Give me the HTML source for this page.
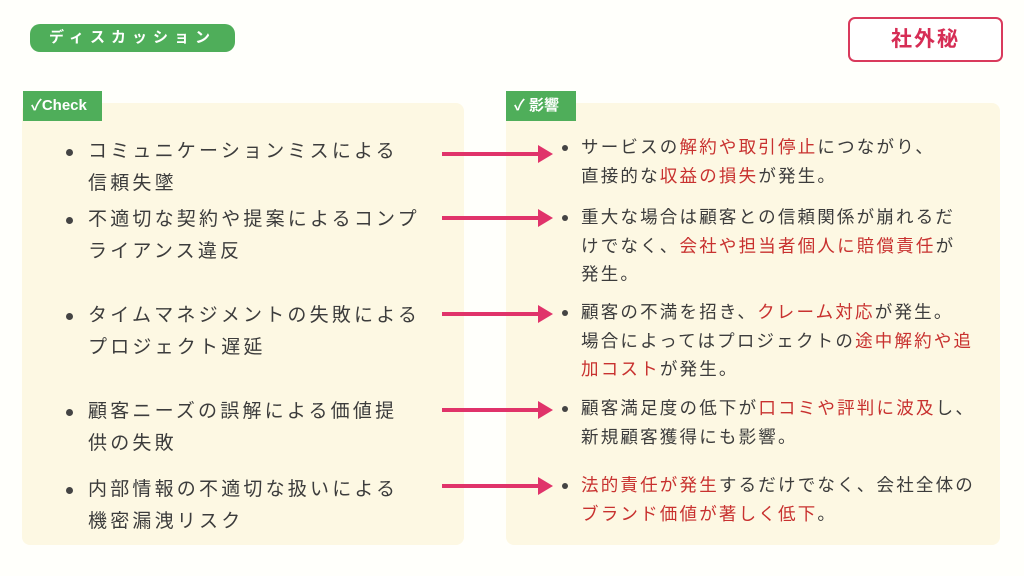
<!DOCTYPE html><html><head><meta charset="utf-8"><style>
body{margin:0;width:1024px;height:576px;background:#fffffb;position:relative;overflow:hidden;font-family:"Liberation Sans","Noto Sans CJK JP",sans-serif;color:#444}
.a{position:absolute}
.pill{left:30px;top:24px;width:205px;height:28px;background:#4fae5a;border-radius:10px;color:#fff;font-size:15px;font-weight:bold;letter-spacing:6px;line-height:28px;text-align:center}
.secret{left:848px;top:17px;width:151px;height:41px;border:2px solid #d93a5c;border-radius:7px;color:#d62d55;font-size:21px;font-weight:bold;text-align:center;line-height:41px;letter-spacing:2px;background:#fff}
.panel{background:#fdf8e3;border-radius:8px}
.tag{background:#4fae5a;color:#fff;font-size:15px;font-weight:bold;height:30px;line-height:30px;padding-left:8px}
.lt{left:88px;font-size:19px;letter-spacing:3.2px;line-height:32px;color:#3c3c3c;white-space:nowrap}
.rt{left:581px;font-size:17.5px;letter-spacing:2.2px;line-height:28.5px;color:#3c3c3c;white-space:nowrap}
.dot{width:7px;height:7px;border-radius:50%;background:#444}
.r{color:#c8312f}
</style></head><body>
<div class="a pill">ディスカッション</div>
<div class="a secret">社外秘</div>
<div class="a panel" style="left:22px;top:103px;width:442px;height:442px"></div>
<div class="a panel" style="left:506px;top:103px;width:494px;height:442px"></div>
<div class="a tag" style="left:23px;top:91px;width:71px">✓Check</div>
<div class="a tag" style="left:506px;top:91px;width:62px">✓ 影響</div>
<svg class="a" style="left:0;top:0" width="1024" height="576">
<g stroke="#e0336a" stroke-width="4" fill="#e0336a">
<line x1="442" y1="154" x2="542" y2="154"/><path d="M538 145 L553 154 L538 163Z" stroke="none"/>
<line x1="442" y1="218" x2="542" y2="218"/><path d="M538 209 L553 218 L538 227Z" stroke="none"/>
<line x1="442" y1="314" x2="542" y2="314"/><path d="M538 305 L553 314 L538 323Z" stroke="none"/>
<line x1="442" y1="410" x2="542" y2="410"/><path d="M538 401 L553 410 L538 419Z" stroke="none"/>
<line x1="442" y1="486" x2="542" y2="486"/><path d="M538 477 L553 486 L538 495Z" stroke="none"/>
</g></svg>
<div class="a dot" style="left:66px;top:149px"></div>
<div class="a dot" style="left:66px;top:217px"></div>
<div class="a dot" style="left:66px;top:313px"></div>
<div class="a dot" style="left:66px;top:409px"></div>
<div class="a dot" style="left:66px;top:487px"></div>
<div class="a lt" style="top:136px">コミュニケーションミスによる<br>信頼失墜</div>
<div class="a lt" style="top:204px">不適切な契約や提案によるコンプ<br>ライアンス違反</div>
<div class="a lt" style="top:300px">タイムマネジメントの失敗による<br>プロジェクト遅延</div>
<div class="a lt" style="top:396px">顧客ニーズの誤解による価値提<br>供の失敗</div>
<div class="a lt" style="top:474px">内部情報の不適切な扱いによる<br>機密漏洩リスク</div>
<div class="a dot" style="left:562px;top:145px;width:6px;height:6px"></div>
<div class="a dot" style="left:562px;top:215px;width:6px;height:6px"></div>
<div class="a dot" style="left:562px;top:310px;width:6px;height:6px"></div>
<div class="a dot" style="left:562px;top:406px;width:6px;height:6px"></div>
<div class="a dot" style="left:562px;top:483px;width:6px;height:6px"></div>
<div class="a rt" style="top:133px">サービスの<span class="r">解約や取引停止</span>につながり、<br>直接的な<span class="r">収益の損失</span>が発生。</div>
<div class="a rt" style="top:203px">重大な場合は顧客との信頼関係が崩れるだ<br>けでなく、<span class="r">会社や担当者個人に賠償責任</span>が<br>発生。</div>
<div class="a rt" style="top:298px">顧客の不満を招き、<span class="r">クレーム対応</span>が発生。<br>場合によってはプロジェクトの<span class="r">途中解約や追</span><br><span class="r">加コスト</span>が発生。</div>
<div class="a rt" style="top:394px">顧客満足度の低下が<span class="r">口コミや評判に波及</span>し、<br>新規顧客獲得にも影響。</div>
<div class="a rt" style="top:471px"><span class="r">法的責任が発生</span>するだけでなく、会社全体の<br><span class="r">ブランド価値が著しく低下</span>。</div>
</body></html>
